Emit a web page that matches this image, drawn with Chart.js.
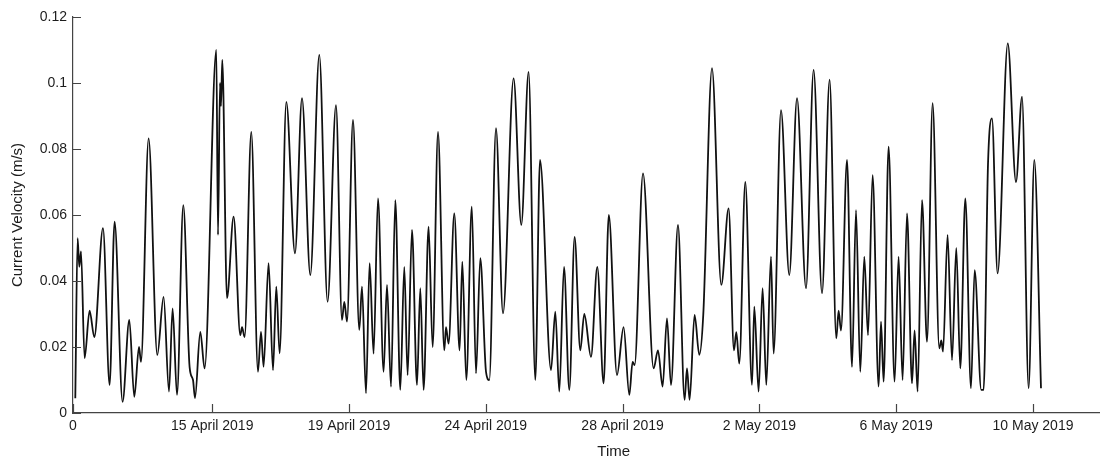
<!DOCTYPE html>
<html>
<head>
<meta charset="utf-8">
<script src="https://cdn.jsdelivr.net/npm/chart.js@4"></script>
<style>
html,body{margin:0;padding:0;background:#fff;}
#wrap{width:1100px;height:461px;position:relative;}
</style>
</head>
<body>
<div id="wrap"><canvas id="c"></canvas></div>
<script>
// time in days since the start of the record
const timeDays = [
0.067,0.135,0.184,0.234,0.339,0.485,0.623,0.877,1.070,1.216,
1.450,1.646,1.792,1.930,1.988,2.211,2.465,2.649,2.807,2.912,
3.041,3.225,3.409,3.509,3.567,3.722,3.848,4.190,4.240,4.298,
4.327,4.365,4.503,4.696,4.892,4.942,5.018,5.213,5.409,5.497,
5.573,5.719,5.848,5.944,6.041,6.237,6.491,6.696,6.939,7.202,
7.444,7.690,7.865,7.933,8.012,8.187,8.371,8.450,8.567,8.673,
8.789,8.918,9.082,9.181,9.298,9.424,9.570,9.687,9.784,9.912,
10.058,10.155,10.251,10.398,10.515,10.673,10.857,10.906,10.982,11.149,
11.304,11.383,11.500,11.661,11.784,11.909,12.076,12.173,12.368,12.573,
12.883,13.108,13.322,13.518,13.655,13.977,14.102,14.219,14.357,14.512,
14.667,14.833,14.950,15.146,15.330,15.515,15.667,15.906,16.099,16.266,
16.363,16.421,16.667,16.977,17.105,17.240,17.368,17.485,17.690,17.883,
17.953,18.029,18.175,18.313,18.430,18.684,18.956,19.170,19.327,19.395,
19.482,19.658,19.854,19.921,20.047,20.164,20.272,20.409,20.485,20.702,
20.944,21.170,21.433,21.655,21.901,22.123,22.319,22.386,22.456,22.632,
22.778,22.895,23.020,23.137,23.246,23.380,23.556,23.626,23.702,23.848,
24.023,24.140,24.257,24.386,24.532,24.608,24.696,24.825,24.971,25.135,
25.330,25.389,25.439,25.573,25.702,25.827,25.944,26.091,26.257,26.363,
26.558,26.626,26.754,26.871,27.035,27.333,27.573,27.749,27.942,28.108,
28.304
];
// current velocity (m/s)
const velocity = [
0.0045,0.053,0.0443,0.049,0.0166,0.031,0.023,0.056,0.0085,0.058,
0.0034,0.0282,0.0049,0.020,0.0155,0.0832,0.0176,0.0352,0.0065,0.0317,
0.0055,0.063,0.014,0.010,0.0045,0.0246,0.0135,0.110,0.054,0.100,
0.093,0.107,0.0348,0.0595,0.0236,0.026,0.023,0.0852,0.0125,0.0246,
0.014,0.0454,0.013,0.0383,0.0181,0.0943,0.0484,0.0954,0.0418,0.1085,
0.0337,0.0933,0.0282,0.0337,0.0277,0.0888,0.0252,0.0383,0.006,0.0454,
0.018,0.065,0.0125,0.0388,0.008,0.0645,0.007,0.0443,0.0115,0.0555,
0.0085,0.0378,0.007,0.0565,0.020,0.0852,0.019,0.026,0.021,0.0605,
0.019,0.0459,0.010,0.0625,0.012,0.0469,0.0125,0.010,0.0863,0.0302,
0.1014,0.057,0.1034,0.010,0.0767,0.013,0.0307,0.0065,0.0443,0.007,
0.0534,0.019,0.030,0.017,0.0443,0.009,0.060,0.0115,0.026,0.0055,
0.0155,0.0145,0.0726,0.0135,0.019,0.008,0.0287,0.0085,0.057,0.004,
0.0135,0.004,0.0297,0.0176,0.030,0.1045,0.0388,0.062,0.019,0.0245,
0.015,0.070,0.0085,0.0322,0.0065,0.0378,0.0085,0.0474,0.018,0.0918,
0.0418,0.0954,0.0378,0.104,0.0363,0.101,0.0226,0.031,0.025,0.0767,
0.014,0.0615,0.0125,0.0474,0.0236,0.0721,0.008,0.0277,0.0095,0.0807,
0.0095,0.0474,0.010,0.0605,0.009,0.025,0.0065,0.0645,0.0216,0.0939,
0.0196,0.022,0.0186,0.054,0.016,0.050,0.0135,0.065,0.0075,0.0433,
0.007,0.007,0.0752,0.0893,0.0423,0.112,0.070,0.0959,0.0075,0.0767,
0.0075
];
const xTickDays = [0, 4.07, 8.07, 12.07, 16.07, 20.07, 24.07, 28.07];
const xTickLabels = ['0','15 April 2019','19 April 2019','24 April 2019','28 April 2019','2 May 2019','6 May 2019','10 May 2019'];
const yTicks = [0, 0.02, 0.04, 0.06, 0.08, 0.1, 0.12];
const yTickLabels = ['0','0.02','0.04','0.06','0.08','0.1','0.12'];

const TXT = '#1c1c1c';
const AX = '#444';
const FONT = '"Liberation Sans", Arial, Helvetica, sans-serif';

const inwardTicks = {
  id: 'inwardTicks',
  afterDraw(chart) {
    const ctx = chart.ctx;
    const xs = chart.scales.x, ys = chart.scales.y;
    const a = chart.chartArea;
    ctx.save();
    ctx.strokeStyle = AX;
    ctx.lineWidth = 1.2;
    ctx.beginPath();
    xs.ticks.forEach(t => {
      const px = Math.round(xs.getPixelForValue(t.value)) + 0.5;
      ctx.moveTo(px, a.bottom);
      ctx.lineTo(px, a.bottom - 9);
    });
    ys.ticks.forEach(t => {
      const py = Math.round(ys.getPixelForValue(t.value)) + 0.5;
      ctx.moveTo(a.left, py);
      ctx.lineTo(a.left + 8, py);
    });
    ctx.stroke();
    // x-axis title, set slightly right of centre as in the original figure
    ctx.fillStyle = TXT;
    ctx.font = '15px ' + FONT;
    ctx.textAlign = 'center';
    ctx.textBaseline = 'middle';
    ctx.fillText('Time', a.left + (a.right - a.left) * 0.527, chart.height - 9);
    ctx.restore();
  }
};

new Chart(document.getElementById('c'), {
  type: 'line',
  data: {
    datasets: [{
      data: timeDays.map((d, i) => ({x: d, y: velocity[i]})),
      borderColor: '#111',
      borderWidth: 1.8,
      pointRadius: 0,
      fill: false,
      cubicInterpolationMode: 'monotone'
    }]
  },
  options: {
    responsive: true,
    maintainAspectRatio: false,
    animation: false,
    layout: {padding: {top: 17, right: 1, left: 0, bottom: 0}},
    plugins: {legend: {display: false}, tooltip: {enabled: false}},
    scales: {
      x: {
        type: 'linear',
        min: 0,
        max: 30,
        afterBuildTicks: s => { s.ticks = xTickDays.map(v => ({value: v})); },
        afterFit: s => { s.height = 48; },
        grid: {display: true, drawOnChartArea: false, drawTicks: false, color: 'rgba(0,0,0,0)'},
        border: {display: true, color: AX, width: 1.2},
        ticks: {
          autoSkip: false, maxRotation: 0, padding: 5, color: TXT,
          font: {family: FONT, size: 14},
          callback: (v, i) => xTickLabels[i]
        },
        title: {display: false, text: 'Time'}
      },
      y: {
        min: 0,
        max: 0.12,
        afterBuildTicks: s => { s.ticks = yTicks.map(v => ({value: v})); },
        afterFit: s => { s.width = 73; },
        grid: {display: true, drawOnChartArea: false, drawTicks: false, color: 'rgba(0,0,0,0)'},
        border: {display: true, color: AX, width: 1.2},
        ticks: {
          padding: 6, color: TXT,
          font: {family: FONT, size: 14},
          callback: (v, i) => yTickLabels[i]
        },
        title: {display: true, text: 'Current Velocity (m/s)', color: TXT, padding: {top: 9, bottom: 0},
          font: {family: FONT, size: 15}}
      }
    }
  },
  plugins: [inwardTicks]
});
</script>
</body>
</html>
